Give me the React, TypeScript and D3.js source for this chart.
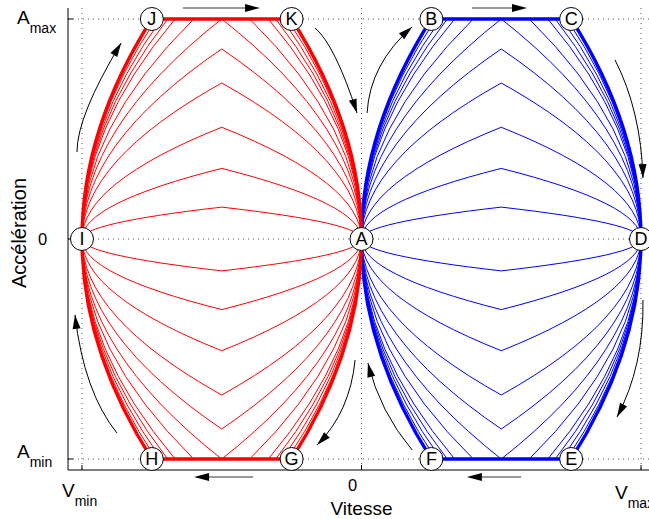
import React from "react";
import * as d3 from "d3";

const W = 649;
const H = 519;

// Limits (normalised units)
const V_MAX = 1;
const A_MAX = 1;
const J_MAX = 2;

// Jerk levels of the thin trajectories
const thinPeakJerks = [0.021, 0.103, 0.258, 0.503, 0.746]; // never reach A_max
const thinPlateauJerks = [1.0, 1.25, 1.5, 1.63, 1.76, 1.88]; // reach the A_max plateau

// Tick values and labels
const xTicks = [-1, 0, 1];
const xTickMain = ["V", "0", "V"];
const xTickSub = ["min", "", "max"];
const yTicks = [1, 0, -1];
const yTickMain = ["A", "0", "A"];
const yTickSub = ["max", "", "min"];

// Named points
const pointNames = ["A", "B", "C", "D", "E", "F", "G", "H", "I", "J", "K"];
const pointV = [0, 0.25, 0.75, 1, 0.75, 0.25, -0.25, -0.75, -1, -0.75, -0.25];
const pointA = [0, 1, 1, 0, -1, -1, -1, -1, 0, 1, 1];

// Curved annotation arrows: start, control, tip (data units)
const arcStartV = [-1.018, -0.166, 0.02, 0.907, 1.007, 0.181, -0.023, -0.875];
const arcStartA = [0.395, 0.959, 0.573, 0.814, -0.277, -0.959, -0.55, -0.882];
const arcCtrlV = [-1.018, -0.095, 0.03, 1.0, 1.011, 0.066, -0.041, -0.993];
const arcCtrlA = [0.559, 0.882, 0.795, 0.582, -0.577, -0.786, -0.786, -0.695];
const arcTipV = [-0.86, -0.016, 0.181, 1.007, 0.914, 0.023, -0.159, -1.025];
const arcTipA = [0.891, 0.573, 0.964, 0.277, -0.809, -0.564, -0.936, -0.345];

// Straight (horizontal) arrows
const hArrowFromV = [-0.639, 0.395, 0.571, -0.388];
const hArrowToV = [-0.363, 0.592, 0.377, -0.599];
const hArrowA = [1.05, 1.05, -1.082, -1.082];

const FONT = "'Liberation Sans', Arial, Helvetica, sans-serif";

export default function App() {
  const x = d3.scaleLinear().domain([-1.05, 1.05]).range([68, 655]);
  const y = d3.scaleLinear().domain([-1.05, 1.05]).range([470, 8]);

  const branchPath = (j: number, sv: number, sa: number) => {
    const ap = Math.min(Math.sqrt(j * V_MAX), A_MAX);
    const vr = (ap * ap) / (2 * j);
    const X = (v: number) => x(sv * v);
    const Y = (a: number) => y(sa * a);
    const p = d3.path();
    p.moveTo(X(0), Y(0));
    p.quadraticCurveTo(X(0), Y(ap / 2), X(vr), Y(ap));
    p.lineTo(X(V_MAX - vr), Y(ap));
    p.quadraticCurveTo(X(V_MAX), Y(ap / 2), X(V_MAX), Y(0));
    return p.toString();
  };

  const quadrants = [
    [1, 1],
    [1, -1],
    [-1, 1],
    [-1, -1],
  ];
  const thinJerks = [...thinPeakJerks, ...thinPlateauJerks];

  const head = (tx: number, ty: number, dx: number, dy: number, len = 14, hw = 4) => {
    const n = Math.hypot(dx, dy) || 1;
    const ux = dx / n;
    const uy = dy / n;
    const bx = tx - ux * len;
    const by = ty - uy * len;
    return `M${tx},${ty}L${bx - uy * hw},${by + ux * hw}L${bx + uy * hw},${by - ux * hw}Z`;
  };

  const xr = x.range();
  const yr = y.range();

  return (
    <svg
      width={W}
      height={H}
      style={{ position: "absolute", left: 0, top: 0, background: "#fff" }}
      fontFamily={FONT}
    >
      {/* grid */}
      {xTicks.map((t, i) => (
        <line key={"gx" + i} x1={x(t)} x2={x(t)} y1={yr[1]} y2={yr[0]} stroke="#555" strokeDasharray="1 4" />
      ))}
      {yTicks.map((t, i) => (
        <line key={"gy" + i} x1={xr[0]} x2={xr[1]} y1={y(t)} y2={y(t)} stroke="#555" strokeDasharray="1 4" />
      ))}

      {/* thin trajectories */}
      {quadrants.map(([sv, sa], qi) =>
        thinJerks.map((j, i) => (
          <path
            key={`t${qi}-${i}`}
            d={branchPath(j, sv, sa)}
            fill="none"
            stroke={sv > 0 ? "#0000ff" : "#ff0000"}
            strokeWidth={1}
          />
        ))
      )}
      {/* thick limiting trajectories */}
      {quadrants.map(([sv, sa], qi) => (
        <path
          key={`T${qi}`}
          d={branchPath(J_MAX, sv, sa)}
          fill="none"
          stroke={sv > 0 ? "#0000ff" : "#ff0000"}
          strokeWidth={3.3}
        />
      ))}

      {/* axes */}
      <line x1={xr[0]} x2={xr[0]} y1={yr[1]} y2={yr[0]} stroke="#000" />
      <line x1={xr[0]} x2={xr[1]} y1={yr[0]} y2={yr[0]} stroke="#000" />
      {xTicks.map((t, i) => (
        <line key={"tx" + i} x1={x(t)} x2={x(t)} y1={yr[0]} y2={yr[0] - 5} stroke="#000" />
      ))}
      {yTicks.map((t, i) => (
        <line key={"ty" + i} x1={xr[0]} x2={xr[0] + 5} y1={y(t)} y2={y(t)} stroke="#000" />
      ))}

      {/* tick labels */}
      {xTicks.map((t, i) => {
        const dxs = [-20, -13.5, -26];
        const bl = [497, 491, 499];
        return (
          <text key={"lx" + i} x={x(t) + dxs[i]} y={bl[i]} fontSize={xTickSub[i] ? 19 : 16.5} fill="#000">
            {xTickMain[i]}
            {xTickSub[i] && (
              <tspan fontSize={14} dy={9}>
                {xTickSub[i]}
              </tspan>
            )}
          </text>
        );
      })}
      {yTicks.map((t, i) => {
        const xs = [17, 38, 17];
        const dys = [4.5, 6, -1];
        return (
          <text key={"ly" + i} x={xs[i]} y={y(t) + dys[i]} fontSize={yTickSub[i] ? 19 : 16.5} fill="#000">
            {yTickMain[i]}
            {yTickSub[i] && (
              <tspan fontSize={14} dy={9}>
                {yTickSub[i]}
              </tspan>
            )}
          </text>
        );
      })}

      {/* axis titles */}
      <text x={x(0)} y={514.5} fontSize={19} textAnchor="middle" fill="#000">
        Vitesse
      </text>
      <text transform={`translate(26,${233}) rotate(-90)`} fontSize={20} textAnchor="middle" fill="#000">
        Accélération
      </text>

      {/* curved arrows */}
      {arcStartV.map((_, i) => {
        const p0 = [x(arcStartV[i]), y(arcStartA[i])];
        const c = [x(arcCtrlV[i]), y(arcCtrlA[i])];
        const t = [x(arcTipV[i]), y(arcTipA[i])];
        const p = d3.path();
        p.moveTo(p0[0], p0[1]);
        p.quadraticCurveTo(c[0], c[1], t[0], t[1]);
        return (
          <g key={"ca" + i}>
            <path d={p.toString()} fill="none" stroke="#000" strokeWidth={1} />
            <path d={head(t[0], t[1], t[0] - c[0], t[1] - c[1])} fill="#000" />
          </g>
        );
      })}

      {/* horizontal arrows */}
      {hArrowFromV.map((_, i) => {
        const x0 = x(hArrowFromV[i]);
        const x1 = x(hArrowToV[i]);
        const yy = y(hArrowA[i]);
        const dir = Math.sign(x1 - x0);
        return (
          <g key={"ha" + i}>
            <line x1={x0} x2={x1 - dir * 8} y1={yy} y2={yy} stroke="#777" strokeWidth={1.6} />
            <path d={head(x1, yy, dir, 0, 15, 4)} fill="#000" />
          </g>
        );
      })}

      {/* named points */}
      {pointNames.map((n, i) => (
        <g key={"p" + n}>
          <circle cx={x(pointV[i])} cy={y(pointA[i])} r={11.5} fill="#fff" stroke="#000" strokeWidth={1} />
          <text
            x={x(pointV[i])}
            y={y(pointA[i])}
            dy="0.36em"
            textAnchor="middle"
            fontSize={18}
            fill="#000"
          >
            {n}
          </text>
        </g>
      ))}
    </svg>
  );
}
